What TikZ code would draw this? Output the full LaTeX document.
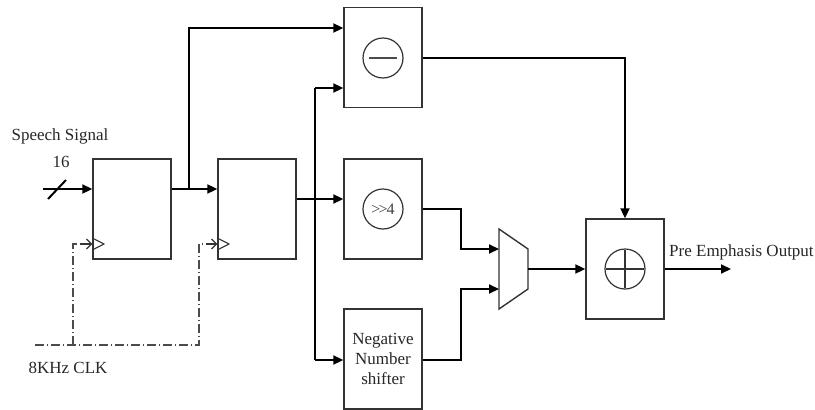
\documentclass[tikz,border=0pt]{standalone}
\usepackage{fontspec}
\setmainfont{Liberation Serif}
\usetikzlibrary{arrows.meta}
\tikzset{
  blk/.style={draw=black!80, line width=1.4pt, minimum width=78pt, minimum height=100pt, inner sep=0pt},
  sig/.style={line width=2pt, -{Triangle[length=10pt,width=9pt]}},
  wire/.style={line width=2pt},
  clk/.style={draw=black!70, line width=1.3pt, dash pattern=on 9pt off 3pt on 1pt off 3pt},
  op/.style={draw=black!80, circle, line width=1.2pt, minimum size=40pt, inner sep=0pt},
  lbl/.style={font=\fontsize{17}{20}\selectfont, text=black!85, inner sep=0pt}
}
\begin{document}
\begin{tikzpicture}[x=1pt,y=-1pt]
\useasboundingbox (0,0) rectangle (815,410);
% registers
\node[blk] (r1) at (132,209) {};
\node[blk] (r2) at (257,209) {};
% processing blocks
\node[blk] (sub) at (383,57.5) {};
\node[blk] (shf) at (383,209) {};
\node[blk, align=center, lbl] (neg) at (383,359) {Negative\\Number\\shifter};
\node[blk] (add) at (625,269) {};
% operators
\node[op] (subop) at (383,58) {};
\draw[black!70, line width=1.4pt] ([xshift=-14pt]subop.center) -- ([xshift=14pt]subop.center);
\node[op, text=black!75, font=\fontsize{16}{18}\selectfont] (shfop) at (383,209) {\textgreater\kern-1.8pt\textgreater\kern-1pt4};
\node[op] (addop) at (625,269) {};
\draw[black!80, line width=1.2pt] ([xshift=-19pt]addop.center) -- ([xshift=19pt]addop.center) ([yshift=-19pt]addop.center) -- ([yshift=19pt]addop.center);
% mux
\coordinate (m1) at (499,229);
\coordinate (m2) at (528,249);
\coordinate (m3) at (528,289);
\coordinate (m4) at (499,309);
\draw[black!80, line width=1.4pt] (m1) -- (m2) -- (m3) -- (m4) -- cycle;
\coordinate (mA) at (499,249);
\coordinate (mB) at (499,289);
\coordinate (mO) at (528,269);
% input
\coordinate (in) at (43,189);
\draw[sig] (in) -- (r1.west |- in);
\draw[wire] (48,199) -- (66,180);
\node[lbl] (t16) at (61,162) {16};
\node[lbl] (tsp) at (60,136) {Speech Signal};
% r1 -> r2, branch to sub
\coordinate (b1) at (189,189);
\draw[sig] (r1.east |- in) -- (r2.west |- in);
\draw[sig] (b1) -- (189,28) -- (sub.west |- 0,28);
% r2 -> trunk
\coordinate (tr) at (315,199);
\draw[sig] (r2.east |- tr) -- (shf.west |- tr);
\draw[wire] (315,88) -- (315,360);
\draw[sig] (315,88) -- (sub.west |- 0,88);
\draw[sig] (315,360) -- (neg.west |- 0,360);
% to mux
\draw[sig] (shf.east) -- (461,209) -- (461,249) -- (mA);
\draw[sig] (neg.east |- 0,360) -- (461,360) -- (461,289) -- (mB);
\draw[sig] (mO) -- (add.west);
% sub to add
\draw[sig] (sub.east |- 0,58) -- (625,58) -- (add.north);
% output
\coordinate (out) at (731,269);
\draw[sig] (add.east) -- (out);
\node[lbl, anchor=west] (tout) at (669,252) {Pre Emphasis Output};
% clocks
\draw[black!80, line width=1.1pt] (r1.west |- 0,238) -- (104,244) -- (r1.west |- 0,250);
\draw[black!80, line width=1.1pt] (r2.west |- 0,238) -- (229,244) -- (r2.west |- 0,250);
\draw[clk] (35,345) -- (199,345) -- (199,244) -- (212,244);
\draw[clk] (73,345) -- (73,244) -- (87,244);
\draw[black!80, line width=1.1pt, -{Straight Barb[length=5pt,width=10pt]}] (80,244) -- (r1.west |- 0,244);
\draw[black!80, line width=1.1pt, -{Straight Barb[length=5pt,width=10pt]}] (206,244) -- (r2.west |- 0,244);
\node[lbl] (tclk) at (68,368) {8KHz CLK};
\end{tikzpicture}
\end{document}
